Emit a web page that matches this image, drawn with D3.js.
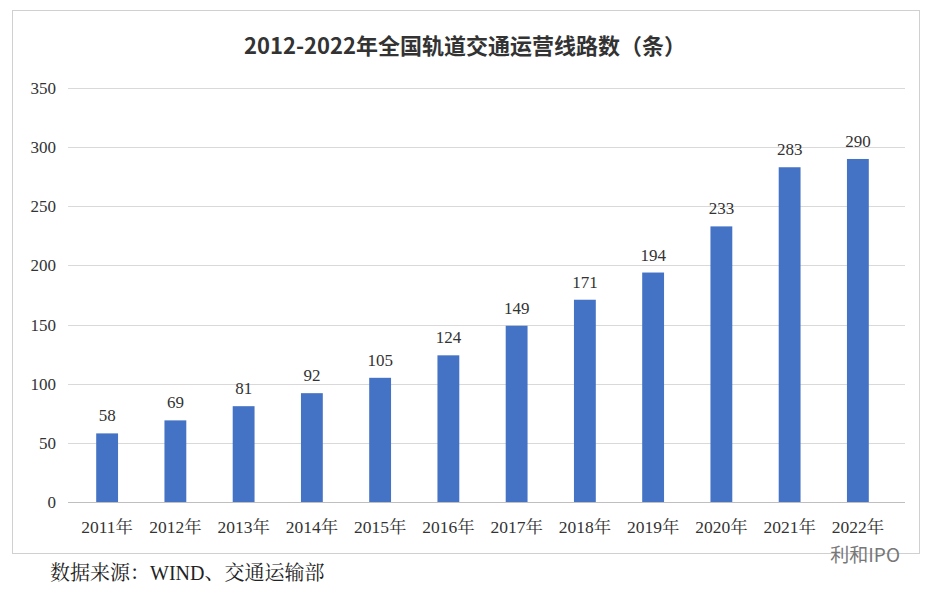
<!DOCTYPE html><html><head><meta charset="utf-8">
<script src="https://cdn.jsdelivr.net/npm/d3@7"></script>
<style>body{margin:0;background:#fff}svg{display:block}</style></head><body>
<script>
const categories=["2011年","2012年","2013年","2014年","2015年","2016年","2017年","2018年","2019年","2020年","2021年","2022年"];
const values=[58,69,81,92,105,124,149,171,194,233,283,290];
const yTicks=[0,50,100,150,200,250,300,350];
const title="2012-2022年全国轨道交通运营线路数（条）";
const source="数据来源：WIND、交通运输部";
const W=929,H=589;
const svg=d3.select("body").append("svg").attr("width",W).attr("height",H);
svg.append("rect").attr("x",12.5).attr("y",10.5).attr("width",907).attr("height",543).attr("fill","#fff").attr("stroke","#d0d0d0");
const serif="'Liberation Serif','Noto Serif CJK SC','Noto Sans CJK SC',serif";
const x=d3.scaleBand().domain(categories).range([73,892]).paddingInner(0.68).paddingOuter(0.34);
const y=d3.scaleLinear().domain([0,350]).range([502,88]);
svg.append("text").attr("x",465).attr("y",54).attr("text-anchor","middle").attr("font-family","'Noto Sans CJK SC',sans-serif").attr("font-weight","bold").attr("font-size",22).attr("fill","#333").text(title);
const g=svg.append("g");
g.selectAll("line.grid").data(yTicks).join("line").attr("x1",68).attr("x2",905).attr("y1",d=>Math.round(y(d))+0.5).attr("y2",d=>Math.round(y(d))+0.5).attr("stroke",d=>d===0?"#bfbfbf":"#d9d9d9");
g.selectAll("text.yt").data(yTicks).join("text").attr("x",56).attr("y",d=>y(d)+6).attr("text-anchor","end").attr("font-family",serif).attr("font-size",17).attr("fill","#333").text(d=>d);
g.selectAll("rect.bar").data(values).join("rect").attr("x",(d,i)=>x(categories[i])).attr("width",x.bandwidth()).attr("y",d=>y(d)).attr("height",d=>y(0)-y(d)).attr("fill","#4472c4");
g.selectAll("text.lab").data(values).join("text").attr("x",(d,i)=>x(categories[i])+x.bandwidth()/2).attr("y",d=>y(d)-12).attr("text-anchor","middle").attr("font-family",serif).attr("font-size",17).attr("fill","#333").text(d=>d);
g.selectAll("text.xl").data(categories).join("text").attr("x",d=>x(d)+x.bandwidth()/2).attr("y",533).attr("text-anchor","middle").attr("font-family",serif).attr("font-size",17.5).attr("fill","#333").text(d=>d);
svg.append("text").attr("x",50).attr("y",580).attr("font-family",serif).attr("font-size",20).attr("fill","#222").text(source);
svg.append("text").attr("x",900).attr("y",562).attr("text-anchor","end").attr("font-family","'Noto Sans CJK SC',sans-serif").attr("font-size",19).attr("fill","#777").text("利和IPO");
</script></body></html>
